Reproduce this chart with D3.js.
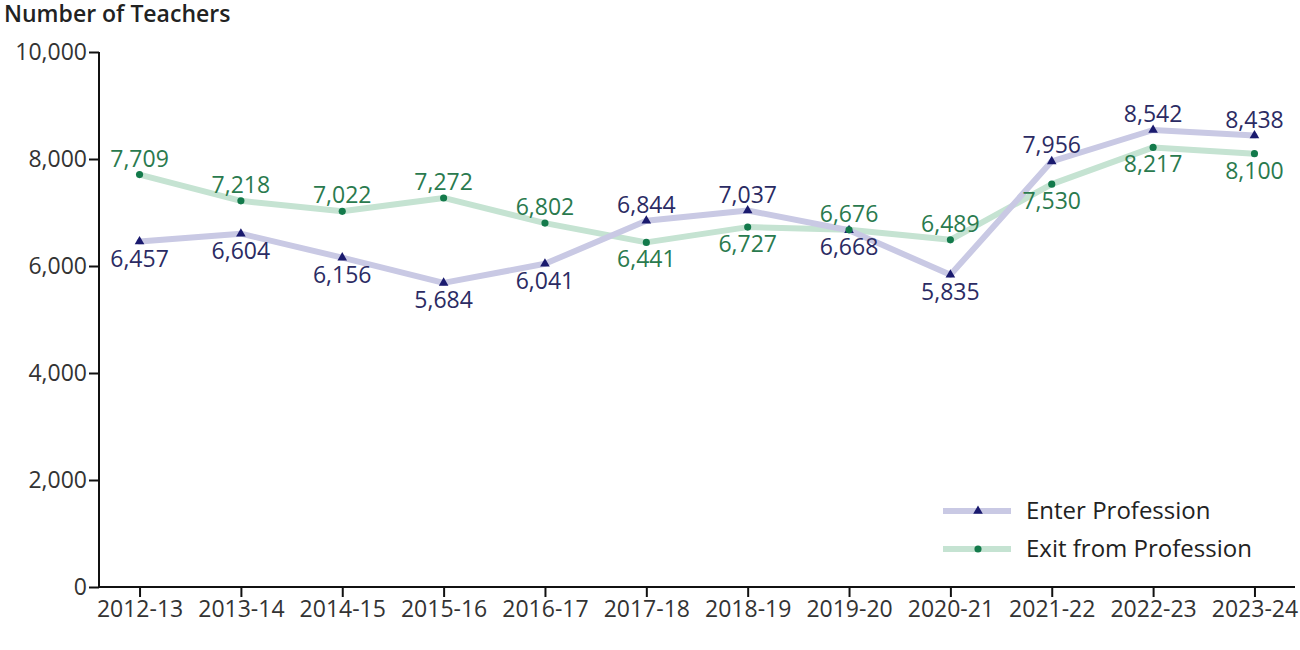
<!DOCTYPE html>
<html>
<head>
<meta charset="utf-8">
<script src="https://cdn.jsdelivr.net/npm/d3@7"></script>
<style>
  body { margin: 0; background: #fff; }
  text { font-family: "Open Sans", "Noto Sans", sans-serif; }
</style>
</head>
<body>
<script>
var years = ["2012-13", "2013-14", "2014-15", "2015-16", "2016-17", "2017-18",
             "2018-19", "2019-20", "2020-21", "2021-22", "2022-23", "2023-24"];
var enterValues = [6457, 6604, 6156, 5684, 6041, 6844, 7037, 6668, 5835, 7956, 8542, 8438];
var exitValues = [7709, 7218, 7022, 7272, 6802, 6441, 6727, 6676, 6489, 7530, 8217, 8100];
var yTicks = [0, 2000, 4000, 6000, 8000, 10000];
var seriesNames = ["Enter Profession", "Exit from Profession"];

var w = 1300, h = 650;
var plotLeft = 99, plotRight = 1295, plotTop = 52, plotBottom = 587;

var svg = d3.select("body")
  .append("svg")
  .attr("width", w)
  .attr("height", h);

var x = d3.scalePoint()
  .domain(years)
  .range([plotLeft, plotRight])
  .padding(0.4);

var y = d3.scaleLinear()
  .domain([0, 10000])
  .range([plotBottom, plotTop]);

var fmt = d3.format(",");

// title
svg.append("text")
  .attr("x", 4)
  .attr("y", 22)
  .attr("font-size", 23)
  .attr("font-weight", 600)
  .attr("fill", "#222")
  .text("Number of Teachers");

// y axis
var yAxis = svg.append("g")
  .attr("transform", "translate(" + plotLeft + ",0)")
  .call(d3.axisLeft(y).tickValues(yTicks).tickFormat(fmt).tickSize(10).tickPadding(2));

// x axis
var xAxis = svg.append("g")
  .attr("transform", "translate(0," + plotBottom + ")")
  .call(d3.axisBottom(x).tickSize(10).tickPadding(4).tickSizeOuter(0));

[yAxis, xAxis].forEach(function(g) {
  g.select(".domain").attr("stroke", "#111").attr("stroke-width", 2);
  g.selectAll(".tick line").attr("stroke", "#111").attr("stroke-width", 2);
  g.selectAll(".tick text").attr("font-size", 23).attr("fill", "#333")
    .attr("font-family", "'Open Sans', 'Noto Sans', sans-serif");
});
yAxis.select(".domain").attr("d", "M0," + plotTop + "V" + plotBottom);
xAxis.select(".domain").attr("d", "M" + plotLeft + ",0H" + plotRight);

var series = [
  { name: seriesNames[0], values: enterValues, other: exitValues,
    line: "#c9c9e4", mark: "#1a1a6e", label: "#2b2b63", shape: d3.symbolTriangle },
  { name: seriesNames[1], values: exitValues, other: enterValues,
    line: "#c5e3d2", mark: "#137a4b", label: "#2a7a4e", shape: d3.symbolCircle }
];

var line = d3.line()
  .x(function(d, i) { return x(years[i]); })
  .y(function(d) { return y(d); });

// exit line underneath, enter line on top
series.slice().reverse().forEach(function(s) {
  svg.append("path")
    .datum(s.values)
    .attr("d", line)
    .attr("fill", "none")
    .attr("stroke", s.line)
    .attr("stroke-width", 6)
    .attr("stroke-linejoin", "round")
    .attr("stroke-linecap", "round");
});

series.forEach(function(s) {
  var g = svg.append("g");
  g.selectAll("path")
    .data(s.values)
    .enter()
    .append("path")
    .attr("d", d3.symbol().type(s.shape).size(40))
    .attr("transform", function(d, i) {
      return "translate(" + x(years[i]) + "," + y(d) + ")";
    })
    .attr("fill", s.mark);

  g.selectAll("text")
    .data(s.values)
    .enter()
    .append("text")
    .attr("x", function(d, i) { return x(years[i]); })
    .attr("y", function(d, i) {
      return d > s.other[i] ? y(d) - 8 : y(d) + 25;
    })
    .attr("text-anchor", "middle")
    .attr("font-size", 23)
    .attr("fill", s.label)
    .text(function(d) { return fmt(d); });
});

// legend
var legendX = 943, legendY = 511, legendGap = 38;
series.forEach(function(s, i) {
  var ly = legendY + i * legendGap;
  svg.append("line")
    .attr("x1", legendX).attr("x2", legendX + 68)
    .attr("y1", ly).attr("y2", ly)
    .attr("stroke", s.line)
    .attr("stroke-width", 6);
  svg.append("path")
    .attr("d", d3.symbol().type(s.shape).size(40))
    .attr("transform", "translate(" + (legendX + 35) + "," + ly + ")")
    .attr("fill", s.mark);
  svg.append("text")
    .attr("x", legendX + 83)
    .attr("y", ly + 8)
    .attr("font-size", 24)
    .attr("fill", "#222")
    .text(s.name);
});
</script>
</body>
</html>
